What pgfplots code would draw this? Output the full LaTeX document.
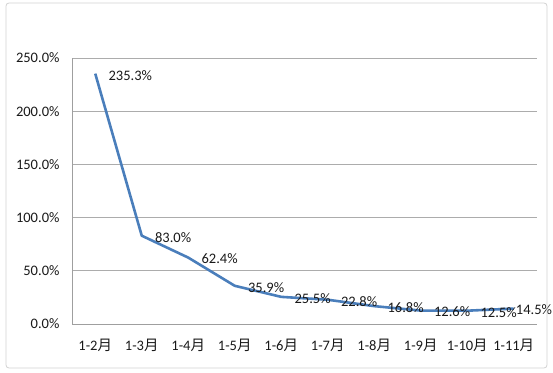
\documentclass[border=0pt]{standalone}
\usepackage{pgfplots}
\pgfplotsset{compat=1.18}
\usepackage{fontspec}
\setmainfont{Carlito}
\newfontfamily\cjk{Noto Sans CJK SC}
\definecolor{serieblue}{HTML}{4A7EBB}
\begin{document}
\begin{tikzpicture}
\begin{axis}[
  scale only axis, width=465pt, height=266pt,
  xmin=-0.5, xmax=9.5, ymin=0, ymax=250,
  xtick={0,...,9},
  xticklabels={1-2{\cjk 月},1-3{\cjk 月},1-4{\cjk 月},1-5{\cjk 月},1-6{\cjk 月},1-7{\cjk 月},1-8{\cjk 月},1-9{\cjk 月},1-10{\cjk 月},1-11{\cjk 月}},
  ytick={0,50,...,250},
  yticklabel={\pgfmathprintnumber[fixed,fixed zerofill,precision=1]{\tick}\%},
  /pgf/number format/assume math mode=true,
  axis x line*=bottom, axis y line*=left,
  axis line style={draw=gray!75, line width=0.8pt, -},
  ymajorgrids, grid style={draw=gray!65, line width=0.8pt},
  major tick length=0pt,
  tick label style={font=\fontsize{14.5}{16}\selectfont, text=black!90},
  yticklabel style={xshift=-9pt},
  xticklabel style={yshift=-12pt},
  clip=false,
  nodes near coords={\pgfmathprintnumber[fixed,fixed zerofill,precision=1]{\pgfplotspointmeta}\%},
  every node near coord/.append style={font=\fontsize{14.5}{16}\selectfont, text=black!90, anchor=west, inner sep=0pt, yshift=-1.5pt},
]
\coordinate (O) at (rel axis cs:0,0);
\addplot[serieblue, line width=2.6pt, line join=round, no marks,
  every node near coord/.append style={xshift=12pt}]
  coordinates {(0,235.3) (1,83.0) (2,62.4) (3,35.9) (4,25.5) (5,22.8) (6,16.8) (7,12.6) (8,12.5)};
\addplot[serieblue, line width=2.6pt, line join=round, no marks, forget plot,
  nodes near coords={}]
  coordinates {(8,12.5) (9,14.5)};
\addplot[draw=none, no marks,
  every node near coord/.append style={xshift=2pt}]
  coordinates {(9,14.5)};
\end{axis}
\draw[gray!35, line width=0.8pt, rounded corners=3pt] ([xshift=-66pt,yshift=-44pt]O) rectangle ([xshift=475pt,yshift=321pt]O);
\path[use as bounding box] ([xshift=-72pt,yshift=-48pt]O) rectangle ([xshift=481pt,yshift=324pt]O);
\end{tikzpicture}
\end{document}
